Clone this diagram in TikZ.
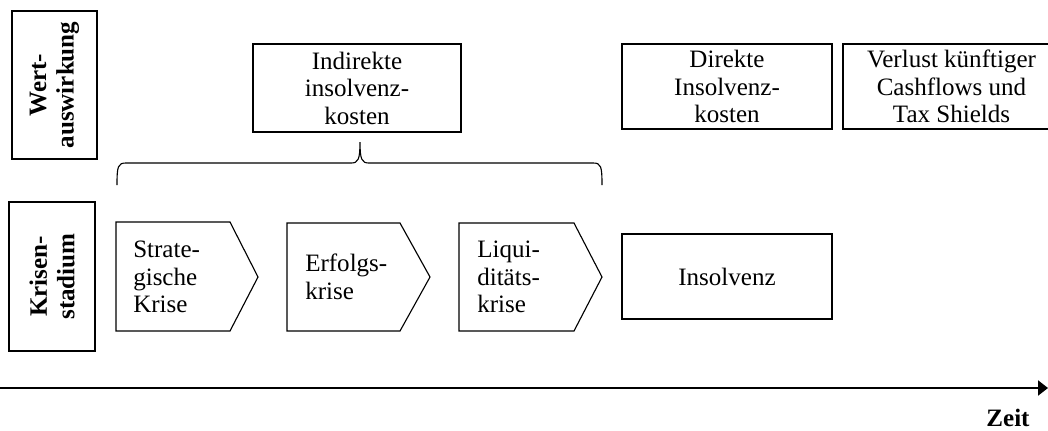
\documentclass[tikz,border=0pt]{standalone}
\usepackage{fontspec}
\setmainfont{Liberation Serif}
\usetikzlibrary{arrows.meta}

\begin{document}
\begin{tikzpicture}[x=0.025cm, y=-0.025cm,
  txt/.style={font=\fontsize{17.8}{19.6}\selectfont, inner sep=0pt},
  box/.style={txt, draw, line width=0.8pt, align=center},
  side/.style={box, rotate=90, font=\fontsize{17.8}{19.6}\selectfont\bfseries},
  chev/.style={draw, line width=0.8pt, line join=miter},
  axis/.style={line width=1pt, -{Triangle[length=0.25cm, width=0.38cm]}}]
\useasboundingbox (0,0) rectangle (1048,430);
%% left headers
\node[side, minimum width=3.7cm, minimum height=2.125cm] (wert) at (54.5,85) {Wert-\\auswirkung};
\node[side, minimum width=3.725cm, minimum height=2.15cm] (krisen) at (52,276.5) {Krisen-\\stadium};
%% top row
\node[box, minimum width=5.2cm, minimum height=2.2cm] (indirekt) at (357,88) {Indirekte\\insolvenz-\\kosten};
\node[box, minimum width=5.25cm, minimum height=2.125cm] (direkt) at (727,86.5) {Direkte\\Insolvenz-\\kosten};
\node[box, minimum width=5.425cm, minimum height=2.125cm] (verlust) at (951.5,86.5) {Verlust künftiger\\Cashflows und\\Tax Shields};
%% crisis stages
\draw[chev] (116,222) -- (230,222) -- (258,277) -- (230,331) -- (116,331) -- cycle;
\draw[chev] (287,223) -- (400,223) -- (430,277) -- (400,331) -- (287,331) -- cycle;
\draw[chev] (459,223) -- (574,223) -- (602,277) -- (574,331) -- (459,331) -- cycle;
\node[txt, align=left, anchor=west] (strat) at (133,277) {Strate-\\gische\\Krise};
\node[txt, align=left, anchor=west] (erfolg) at (305,277) {Erfolgs-\\krise};
\node[txt, align=left, anchor=west] (liqui) at (477,277) {Liqui-\\ditäts-\\krise};
\node[box, minimum width=5.25cm, minimum height=2.125cm] (insolvenz) at (727,276.5) {Insolvenz};
%% brace
\coordinate (bl) at (117,185);
\coordinate (br) at (602,185);
\coordinate (tip) at (360,142);
\draw[line width=0.8pt] (bl) .. controls (117,166) and (118,163) .. (126,163) -- (351,163)
  .. controls (358,163) and (360,160) .. (tip) .. controls (360,160) and (362,163) .. (369,163)
  -- (593,163) .. controls (601,163) and (602,166) .. (br);
%% time axis
\coordinate (t0) at (0,388);
\coordinate (t1) at (1048,388);
\draw[axis] (t0) -- (t1);
\node[txt, font=\fontsize{17.8}{19.6}\selectfont\bfseries] (zeit) at (1008,418) {Zeit};
\end{tikzpicture}
\end{document}
